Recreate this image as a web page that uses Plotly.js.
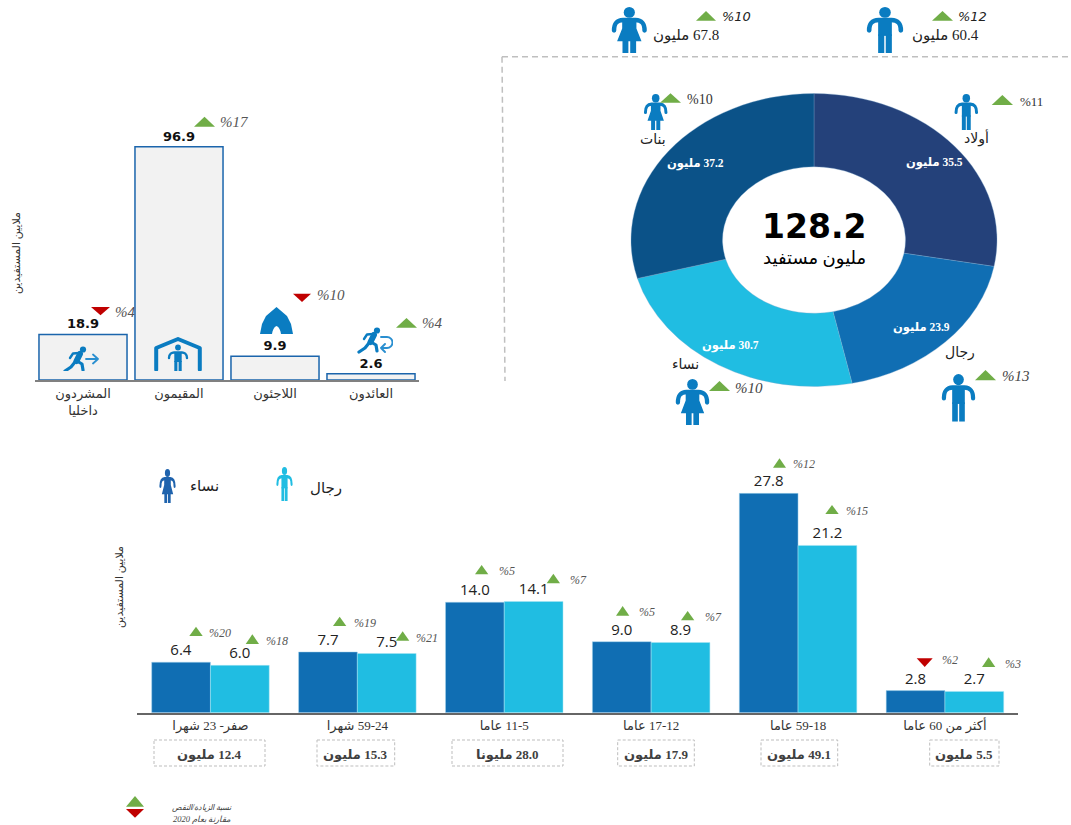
<!DOCTYPE html>
<html><head><meta charset="utf-8">
<script src="https://cdn.plot.ly/plotly-3.0.1.min.js"></script>
<style>html,body{margin:0;padding:0;background:#fff}#g{width:1071px;height:825px}</style>
</head><body><div id="g"></div>
<script>
// ---- data ----
const RLM="\u200F";
const popCats = ["المشردون<br>داخليا","المقيمون","اللاجئون","العائدون"];
const popValues = [18.9,96.9,9.9,2.6];
const popChange = ["%4","%17","%10","%4"];
const ageCats = ["صفر- 23 شهرا",RLM+"59-24 شهرا",RLM+"11-5 عاما",RLM+"17-12 عاما",RLM+"59-18 عاما","أكثر من 60 عاما"];
const womenValues = [6.4,7.7,14.0,9.0,27.8,2.8];
const menValues = [6.0,7.5,14.1,8.9,21.2,2.7];
const womenChange = ["%20","%19","%5","%5","%12","%2"];
const menChange = ["%18","%21","%7","%7","%15","%3"];
const ageTotals = [RLM+"12.4 مليون",RLM+"15.3 مليون",RLM+"28.0 مليونا",RLM+"17.9 مليون",RLM+"49.1 مليون",RLM+"5.5 مليون"];
const donutCats = ["أولاد","رجال","نساء","بنات"];
const donutValues = [35.5,23.9,30.7,37.2];
const donutChange = ["%11","%13","%10","%10"];
const donutTotal = "128.2";
const donutTotalLabel = "مليون مستفيد";
const headLabels = [RLM+"67.8 مليون",RLM+"60.4 مليون"];
const headChange = ["%10","%12"];
const axisTitle = "ملايين المستفيدين";
const legendLabels = ["نساء","رجال"];
const noteLines = ["نسبة الزيادة/النقص","مقارنة بعام 2020"];

// ---- helpers (pixel → paper) ----
const W=1071,H=825, px=x=>x/W, py=y=>1-y/H;
const GREEN="#70ad47", RED="#c00000", ICON="#0a7cc1";
const SERIF="'Liberation Serif','DejaVu Sans',serif", SANS="'DejaVu Sans',sans-serif", OPEN="'Open Sans',sans-serif";
const annotations=[], shapes=[], images=[];
function T(x,y,text,size,color,o={}){annotations.push({xref:'paper',yref:'paper',x:px(x),y:py(y),text:text,showarrow:false,
  xanchor:o.anchor||'center',yanchor:'middle',textangle:o.angle||0,font:{family:o.family||SERIF,size:size,color:color||'#222',style:o.italic?'italic':'normal',weight:o.bold?700:400}});}
function tri(x0,x1,y0,y1,up){const xm=(x0+x1)/2;
  const d=up?`M${px(x0)},${py(y1)}L${px(x1)},${py(y1)}L${px(xm)},${py(y0)}Z`:`M${px(x0)},${py(y0)}L${px(x1)},${py(y0)}L${px(xm)},${py(y1)}Z`;
  shapes.push({type:'path',xref:'paper',yref:'paper',path:d,fillcolor:up?GREEN:RED,line:{width:0},layer:'above'});}
function line(x0,y0,x1,y1,c,w,dash){shapes.push({type:'line',xref:'paper',yref:'paper',x0:px(x0),y0:py(y0),x1:px(x1),y1:py(y1),line:{color:c,width:w,dash:dash||'solid'},layer:'below'});}
function box(x0,y0,x1,y1){shapes.push({type:'rect',xref:'paper',yref:'paper',x0:px(x0),y0:py(y0),x1:px(x1),y1:py(y1),line:{color:'#bdbdbd',width:1,dash:'3px,2px'},layer:'below'});}
function img(svg,vw,vh,x0,y0,x1,y1){
  const src='data:image/svg+xml;charset=utf-8,'+encodeURIComponent(`<svg xmlns="http://www.w3.org/2000/svg" viewBox="0 0 ${vw} ${vh}" width="${vw*4}" height="${vh*4}" preserveAspectRatio="none">${svg}</svg>`);
  images.push({source:src,xref:'paper',yref:'paper',x:px(x0),y:py(y0),sizex:(x1-x0)/W,sizey:(y1-y0)/H,xanchor:'left',yanchor:'top',sizing:'stretch',layer:'above'});}
const man=c=>`<g fill="${c}"><circle cx="18" cy="5.5" r="5.5"/><path d="M3 24C3 16 6 13.7 12 13.3L24 13.3C30 13.7 33 16 33 24" fill="none" stroke="${c}" stroke-width="4.4" stroke-linecap="round"/><rect x="11.5" y="12.5" width="13" height="17"/><rect x="11.5" y="28" width="5.8" height="19"/><rect x="18.7" y="28" width="5.8" height="19"/></g>`;
const woman=c=>`<g fill="${c}"><circle cx="18" cy="5.5" r="5.5"/><path d="M3 24C3 16 6 13.7 12 13.3L24 13.3C30 13.7 33 16 33 24" fill="none" stroke="${c}" stroke-width="4.4" stroke-linecap="round"/><path d="M11 12.5L25 12.5L25 22L30 35L6 35L11 22Z"/><rect x="11.3" y="34" width="5.8" height="13"/><rect x="18.9" y="34" width="5.8" height="13"/></g>`;
const runner=c=>`<g fill="none" stroke="${c}" stroke-linecap="round" stroke-linejoin="round"><circle cx="20" cy="3.5" r="3.1" fill="${c}" stroke="none"/><path d="M17 8L13.5 15" stroke-width="6"/><path d="M14 15L19 18L20 24" stroke-width="3.2"/><path d="M12 16L8 21L2 25" stroke-width="3.2"/><path d="M16 7L10 7.5L7 12" stroke-width="2.4"/></g>`;
const arrowR=`<path d="M23 13L35 13M30 8.5L35 13L30 17.5" fill="none" stroke="#2a8fd0" stroke-width="1.8" stroke-linecap="round" stroke-linejoin="round"/>`;
const arrowBack=`<path d="M24 10L30 10A5.5 5.5 0 0 1 30 21L24 21M28 17L24 21L28 25" fill="none" stroke="#2a8fd0" stroke-width="1.9" stroke-linecap="round" stroke-linejoin="round"/>`;
const house=`<g fill="${ICON}"><path d="M2.2 32.5L2.2 11L24 2L45.8 11L45.8 32.5" fill="none" stroke="${ICON}" stroke-width="4" stroke-linecap="round" stroke-linejoin="round"/><circle cx="24" cy="10.5" r="2.9"/><path d="M15 21C15 17 18 15.5 20 15.5L28 15.5C30 15.5 33 17 33 21" fill="none" stroke="${ICON}" stroke-width="2.4" stroke-linecap="round"/><rect x="20.3" y="15" width="7.4" height="10"/><rect x="20.3" y="24" width="3.1" height="10"/><rect x="24.6" y="24" width="3.1" height="10"/></g>`;
const tent=`<path fill="${ICON}" d="M16.5 0L27 9L31 17L33 27L21 27C20.5 23 19 20 16.5 19C14 20 12.5 23 12 27L0 27L2 17L6 9Z"/>`;

// ---- decoration: top-left chart ----
T(17,253,axisTitle,11,'#333',{angle:-90});
img(runner(ICON)+arrowR,36,25,63,346,99,371);
img(house,48,34,154,337,202,371);
img(tent,33,27,260,307,293,334);
img(runner(ICON)+arrowBack,36,27,357,327,393,354);
const popMarks=[[91,110,307,315.3,false,113,312],[194,215,116.7,126.7,true,218,122],[293,311,293.7,302,false,315,295],[396,417,318,327.7,true,420,323]];
popMarks.forEach((m,i)=>{tri(m[0],m[1],m[2],m[3],m[4]);T(m[5],m[6],popChange[i],15,'#555',{anchor:'left',italic:true});});

// ---- decoration: donut ----
line(502,56.7,1071,56.7,'#bfbfbf',1.5,'6px,4px');
line(502,56.7,505,381,'#bfbfbf',1.5,'6px,4px');
T(814,226,donutTotal,33,'#000',{family:SANS,bold:true});
T(814,258,donutTotalLabel,18,'#000');
const donutLabelPos=[[934.5,163],[921.7,327.7],[730,346],[695,164]];
donutValues.forEach((v,i)=>T(donutLabelPos[i][0],donutLabelPos[i][1],RLM+v.toFixed(1)+" مليون",11.5,'#fff',{bold:true}));
const donutNamePos=[[976.5,138],[960,353],[685,365],[653,140]];
donutCats.forEach((c,i)=>T(donutNamePos[i][0],donutNamePos[i][1],c,14,'#222'));
img(man(ICON),36,47,954,94,978.6,130);
img(man(ICON),36,47,941,374,976,421.7);
img(woman(ICON),36,47,675,379,710,425);
img(woman(ICON),36,47,643.4,94,668,130);
tri(991.7,1013,95,105,true); T(1018,101,donutChange[0],13,'#333',{anchor:'left'});
tri(975,996,370,380.3,true); T(1000,375.7,donutChange[1],15,'#444',{anchor:'left',italic:true});
tri(709,730,381,391,true); T(733,388,donutChange[2],15,'#444',{anchor:'left',italic:true});
tri(660,681,93.3,102.7,true); T(684.5,99,donutChange[3],14,'#333',{anchor:'left'});
img(woman(ICON),36,47,611,7,647.6,53);
img(man(ICON),36,47,866,7,904,53);
T(686,35,headLabels[0],15,'#222'); T(945,35,headLabels[1],15,'#222');
tri(696,716,11,20.7,true); T(720,16.7,headChange[0],13,'#222',{anchor:'left',family:SANS,italic:true});
tri(932,953,11,20.7,true); T(956,16,headChange[1],13,'#222',{anchor:'left',family:SANS,italic:true});

// ---- decoration: age chart ----
T(119,587,axisTitle,11,'#333',{angle:-90});
img(woman("#1f63ad"),36,47,159,469,176,503);
img(man("#20bde2"),36,47,276,467,293,501);
T(204,485.7,legendLabels[0],15,'#222'); T(325.7,488,legendLabels[1],15,'#222');
const wMarks=[[189.3,202.7,626.7,636,true,207,633],[333,346.3,616.7,626,true,351.7,623],[475,488.3,565,574.3,true,496.7,571],[616,629.3,606,615.7,true,637,612],[773,786,458.3,467.7,true,791.3,464],[916.7,932.7,658.3,667,false,940,659.7]];
const mMarks=[[245.7,259,634.3,644,true,264,641],[396,409.3,631.3,640.7,true,414,638],[546.7,560,573.7,583.3,true,568,580],[681,694.3,611,620.3,true,702.7,617],[825.3,838.7,505,514,true,843.7,511],[982,995.3,657.3,667,true,1003,664]];
wMarks.forEach((m,i)=>{tri(m[0],m[1],m[2],m[3],m[4]);T(m[5],m[6],womenChange[i],12,'#555',{anchor:'left',italic:true});});
mMarks.forEach((m,i)=>{tri(m[0],m[1],m[2],m[3],m[4]);T(m[5],m[6],menChange[i],12,'#555',{anchor:'left',italic:true});});
const totalBoxes=[[154,265,209],[317,394.7,355],[452,563,507],[617.7,694.3,656],[761,837.7,798.7],[929.7,999,964]];
totalBoxes.forEach((b,i)=>{box(b[0],740,b[1],766);T(b[2],754,ageTotals[i],13,'#404040',{bold:true});});

// ---- footnote ----
tri(126,144,796,806.7,true); tri(126,144,809,817.7,false);
T(202,807.7,noteLines[0],8,'#444',{italic:true}); T(202,819,noteLines[1],8.5,'#444',{italic:true});

// ---- traces ----
const traces=[
 {type:'bar',x:popCats,y:popValues,width:0.917,xaxis:'x',yaxis:'y',marker:{color:'#f2f2f2',line:{color:'#1b65ac',width:1.5}},
  texttemplate:'%{y:.1f}',textposition:'outside',cliponaxis:false,constraintext:'none',textangle:0,textfont:{family:SANS,size:13,color:'#111',weight:700},hoverinfo:'x+y'},
 {type:'bar',name:legendLabels[0],x:ageCats,y:womenValues,xaxis:'x2',yaxis:'y2',marker:{color:'#106eb3',line:{color:'#a9d8ee',width:0.5}},
  texttemplate:'%{y:.1f}',textposition:'outside',cliponaxis:false,constraintext:'none',textangle:0,textfont:{family:OPEN,size:15,color:'#222'}},
 {type:'bar',name:legendLabels[1],x:ageCats,y:menValues,xaxis:'x2',yaxis:'y2',marker:{color:'#20bde2',line:{color:'#a9e4f3',width:0.5}},
  texttemplate:'%{y:.1f}',textposition:'outside',cliponaxis:false,constraintext:'none',textangle:0,textfont:{family:OPEN,size:15,color:'#222'}},
 {type:'pie',labels:donutCats,values:donutValues,hole:0.5,sort:false,direction:'clockwise',rotation:0,textinfo:'none',
  domain:{x:[px(814-146.5),px(814+146.5)],y:[py(386.5),py(93.5)]},
  marker:{colors:['#24417a','#106eb3','#20bde2','#0b5288'],line:{color:'#7fa9cc',width:0.3}}}
];
const layout={width:W,height:H,margin:{l:0,r:0,t:0,b:0},paper_bgcolor:'#fff',plot_bgcolor:'rgba(0,0,0,0)',showlegend:false,
 barmode:'group',bargap:0.2,bargroupgap:0,
 font:{family:SERIF},
 xaxis:{domain:[px(35),px(419)],anchor:'y',type:'category',categoryorder:'array',categoryarray:popCats,showline:true,linecolor:'#808080',linewidth:2,ticks:'',showgrid:false,zeroline:false,tickfont:{family:SERIF,size:13,color:'#333'},fixedrange:true},
 yaxis:{domain:[py(380),py(380-110*2.408)],anchor:'x',range:[0,110],visible:false,fixedrange:true},
 xaxis2:{domain:[px(137),px(1018.4)],anchor:'y2',type:'category',categoryorder:'array',categoryarray:ageCats,showline:true,linecolor:'#666',linewidth:1.5,ticks:'',showgrid:false,zeroline:false,tickfont:{family:SERIF,size:13,color:'#333'},fixedrange:true},
 yaxis2:{domain:[py(712.7),py(712.7-30*7.89)],anchor:'x2',range:[0,30],visible:false,fixedrange:true},
 annotations,shapes,images};

Plotly.newPlot('g',traces,layout,{displayModeBar:false,responsive:false}).then(gd=>{
  // the reference's doughnut is stretched horizontally
  const s=366/293, cx=814, p=gd.querySelector('.pielayer');
  if(p) p.setAttribute('transform',`translate(${cx*(1-s)},0) scale(${s},1)`);
});
</script></body></html>
